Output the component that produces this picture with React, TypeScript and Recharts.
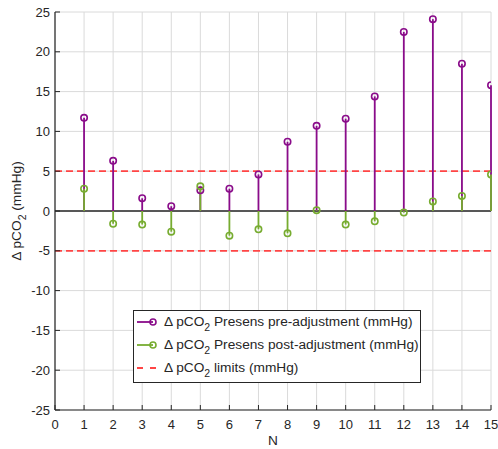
import React from 'react';
import {
  ComposedChart,
  Scatter,
  ErrorBar,
  XAxis,
  YAxis,
  CartesianGrid,
  ReferenceLine,
  Legend,
  Label,
} from 'recharts';

// Sample index
const N = [1, 2, 3, 4, 5, 6, 7, 8, 9, 10, 11, 12, 13, 14, 15];
// Δ pCO2 before sensor adjustment (mmHg)
const PRE = [11.7, 6.3, 1.6, 0.6, 2.6, 2.8, 4.6, 8.7, 10.7, 11.6, 14.4, 22.5, 24.1, 18.5, 15.8];
// Δ pCO2 after sensor adjustment (mmHg)
const POST = [2.8, -1.6, -1.7, -2.6, 3.1, -3.1, -2.3, -2.8, 0.1, -1.7, -1.3, -0.2, 1.2, 1.9, 4.6];
// Acceptance band
const LIMITS = [5, -5];

const X_TICKS = [0, 1, 2, 3, 4, 5, 6, 7, 8, 9, 10, 11, 12, 13, 14, 15];
const Y_TICKS = [-25, -20, -15, -10, -5, 0, 5, 10, 15, 20, 25];

const SERIES_NAMES = [
  'Presens pre-adjustment (mmHg)',
  'Presens post-adjustment (mmHg)',
  'limits (mmHg)',
];

const PURPLE = '#8a0c8a';
const GREEN = '#77ac30';
const RED = '#ff4545';
const INK = '#262626';
const FONT = '"Liberation Sans", Arial, sans-serif';
const TICK_FS = 13;
const TEXT_FS = 13.7;

// Stem: error bar spanning from zero to the value
const toStem = (vals: number[]) =>
  N.map((n, i) => ({
    x: n,
    y: vals[i],
    stem: vals[i] >= 0 ? [vals[i], 0] : [0, -vals[i]],
  }));

const preData = toStem(PRE);
const postData = toStem(POST);

const marker = (color: string) => (props: any) => (
  <circle cx={props.cx} cy={props.cy} r={3.2} fill="none" stroke={color} strokeWidth={1.6} />
);

const YTick = (props: any) => {
  const { x, y, payload } = props;
  return (
    <g>
      <line x1={x} x2={x + 5} y1={y} y2={y} stroke={INK} strokeWidth={1} />
      <text x={x - 5} y={y} dy="0.35em" textAnchor="end" fill={INK} fontSize={TICK_FS} fontFamily={FONT}>
        {payload.value}
      </text>
    </g>
  );
};

const XTick = (props: any) => {
  const { x, y, payload } = props;
  return (
    <g>
      <line x1={x} x2={x} y1={y} y2={y - 5} stroke={INK} strokeWidth={1} />
      <text x={x} y={y + 18.5} textAnchor="middle" fill={INK} fontSize={TICK_FS} fontFamily={FONT}>
        {payload.value}
      </text>
    </g>
  );
};

const DeltaLabel = ({ rest }: { rest: string }) => (
  <>
    <tspan>{'Δ pCO'}</tspan>
    <tspan dy={4.5} fontSize={10.5}>2</tspan>
    <tspan dy={-4.5}>{' ' + rest}</tspan>
  </>
);

const YLabel = () => (
  <text
    x={0}
    y={0}
    transform="translate(21, 211) rotate(-90)"
    textAnchor="middle"
    fill={INK}
    fontSize={TEXT_FS}
    fontFamily={FONT}
  >
    <DeltaLabel rest="(mmHg)" />
  </text>
);

const LegendBox = () => {
  const rows = [12, 35, 58];
  return (
    <svg width={288} height={73} style={{ display: 'block' }}>
      <rect x={0.5} y={0.5} width={287} height={72} fill="#fff" stroke={INK} strokeWidth={1} />
      {[PURPLE, GREEN].map((c, i) => (
        <g key={c}>
          <line x1={4} x2={20} y1={rows[i]} y2={rows[i]} stroke={c} strokeWidth={1.8} />
          <circle cx={20} cy={rows[i]} r={3} fill="none" stroke={c} strokeWidth={1.6} />
        </g>
      ))}
      <line x1={4} x2={24} y1={rows[2]} y2={rows[2]} stroke={RED} strokeWidth={1.8} strokeDasharray="6 7" />
      {SERIES_NAMES.map((name, i) => (
        <text key={name} x={31} y={rows[i]} dy="0.3em" fill={INK} fontSize={TEXT_FS} fontFamily={FONT}>
          <DeltaLabel rest={name} />
        </text>
      ))}
    </svg>
  );
};

export default function App() {
  return (
    <div style={{ position: 'absolute', left: 0, top: 0, background: '#fff' }}>
      <ComposedChart
        width={498}
        height={449}
        margin={{ top: 12, right: 7, bottom: 9, left: 10 }}
      >
        <CartesianGrid stroke="#dadada" strokeWidth={1} />
        <XAxis
          type="number"
          dataKey="x"
          domain={[0, 15]}
          ticks={X_TICKS}
          interval={0}
          height={30}
          tickSize={0}
          tickMargin={0}
          tickLine={false}
          tick={<XTick />}
          axisLine={{ stroke: INK, strokeWidth: 1.2 }}
          allowDataOverflow
        >
          <Label
            value="N"
            content={() => (
              <text x={273} y={445} textAnchor="middle" fill={INK} fontSize={TEXT_FS} fontFamily={FONT}>
                N
              </text>
            )}
          />
        </XAxis>
        <YAxis
          type="number"
          dataKey="y"
          domain={[-25, 25]}
          ticks={Y_TICKS}
          interval={0}
          width={45}
          tickSize={0}
          tickMargin={0}
          tickLine={false}
          tick={<YTick />}
          axisLine={{ stroke: INK, strokeWidth: 1.2 }}
          allowDataOverflow
        >
          <Label content={() => <YLabel />} />
        </YAxis>
        {LIMITS.map((v) => (
          <ReferenceLine key={v} y={v} stroke={RED} strokeWidth={1.8} strokeDasharray="7 4" />
        ))}
        <ReferenceLine y={0} stroke={INK} strokeWidth={1.6} />
        <Scatter data={preData} shape={marker(PURPLE)} isAnimationActive={false}>
          <ErrorBar dataKey="stem" direction="y" width={0} stroke={PURPLE} strokeWidth={1.8} isAnimationActive={false} />
        </Scatter>
        <Scatter data={postData} shape={marker(GREEN)} isAnimationActive={false}>
          <ErrorBar dataKey="stem" direction="y" width={0} stroke={GREEN} strokeWidth={1.8} isAnimationActive={false} />
        </Scatter>
        <Legend
          layout="vertical"
          align="center"
          verticalAlign="middle"
          content={() => <LegendBox />}
          wrapperStyle={{ position: 'absolute', left: 133, top: 310, width: 288, height: 73 }}
        />
      </ComposedChart>
    </div>
  );
}
